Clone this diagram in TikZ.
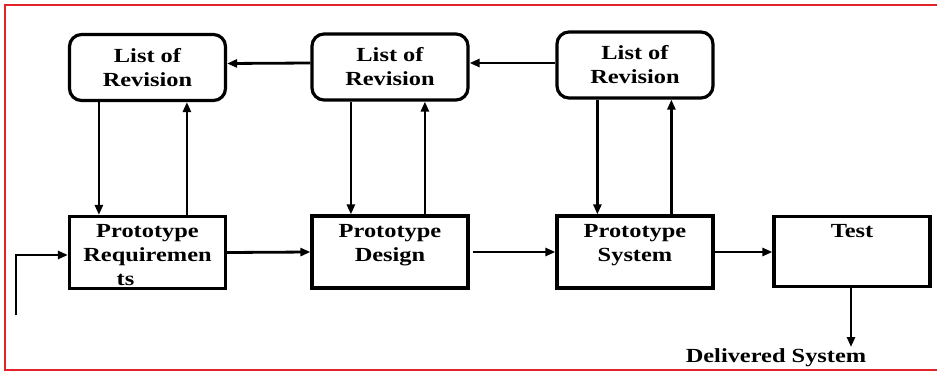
\documentclass[tikz,border=0pt]{standalone}
\usepackage{fontspec}
\setmainfont[FakeStretch=1.22]{Liberation Serif}
\usetikzlibrary{arrows.meta}
\definecolor{framered}{RGB}{226,34,40}

\begin{document}
\begin{tikzpicture}[x=1pt,y=-1pt,
  every node/.style={font=\bfseries\fontsize{20}{24}\selectfont,align=center},
  revbox/.style={draw,line width=3.2pt,rounded corners=12pt,minimum width=156pt,minimum height=66pt},
  protobox/.style={draw,line width=3.2pt,minimum width=156pt,minimum height=72pt},
  toplab/.style={anchor=north,inner sep=9.5pt},
  flow/.style={line width=2.8pt,-{Triangle[length=10pt,width=8pt]}}]
  \useasboundingbox (0,0) rectangle (937,372);
  \draw[framered,line width=2pt] (937,5) -- (5,5) -- (5,370) -- (937,370);
  \draw(147.5,67.5) node[revbox] (rev1) {List of\\Revision};
  \draw(390,67) node[revbox] (rev2) {List of\\Revision};
  \draw(635,65) node[revbox] (rev3) {List of\\Revision};
  \draw(147.5,252.5) node[protobox,label={[toplab]north:{Prototype\\Requiremen\\ts\hspace*{44pt}}}] (req) {};
  \draw(390,252) node[protobox,label={[toplab]north:{Prototype\\Design}}] (design) {};
  \draw(635,252) node[protobox,label={[toplab]north:{Prototype\\System}}] (system) {};
  \draw(852,251.5) node[protobox,minimum height=70pt,label={[toplab]north:Test}] (test) {};
  \coordinate (in) at (16,315);
  \coordinate (out) at (851,347);
  \node [anchor=base] (deliv) at (776,362) {Delivered System};
  \draw[flow] ([yshift=4pt]rev2.west) -- ([yshift=4pt]rev1.east);
  \draw[flow] ([yshift=2pt]rev3.west) -- ([yshift=2pt]rev3.west -| rev2.east);
  \draw[flow] ([xshift=31pt]rev1.south west) -- ([xshift=31pt]rev1.south west |- req.north);
  \draw[flow] ([xshift=119pt]req.north west) -- ([xshift=119pt]req.north west |- rev1.south);
  \draw[flow] ([xshift=40.5pt]rev2.south west) -- ([xshift=40.5pt]rev2.south west |- design.north);
  \draw[flow] ([xshift=114.5pt]design.north west) -- ([xshift=114.5pt]design.north west |- rev2.south);
  \draw[flow] ([xshift=42pt]rev3.south west) -- ([xshift=42pt]rev3.south west |- system.north);
  \draw[flow] ([xshift=116pt]system.north west) -- ([xshift=116pt]system.north west |- rev3.south);
  \draw[flow] (in) |- ([yshift=-2.5pt]req.west);
  \draw[flow] (req.east) -- (design.west);
  \draw[flow] ([xshift=3pt]design.east) -- (system.west);
  \draw[flow] (system.east) -- (system.east -| test.west);
  \draw[flow] (test.south -| out) -- (out);
\end{tikzpicture}
\end{document}
